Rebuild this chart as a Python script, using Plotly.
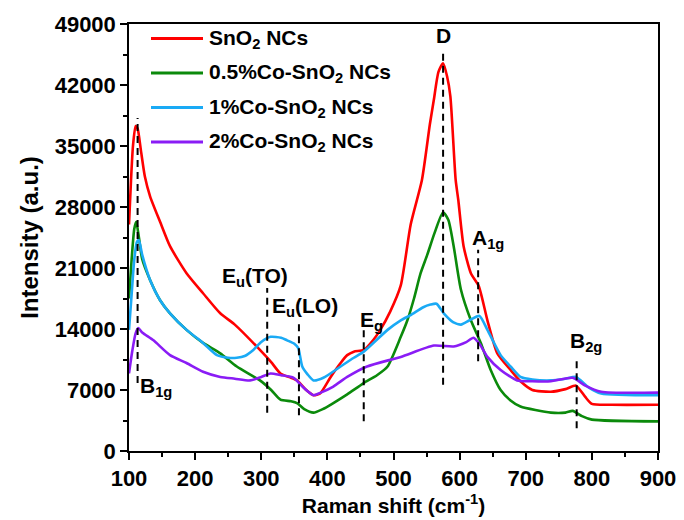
import plotly.graph_objects as go

# ---------------- data ----------------
series_names = ["SnO<sub>2</sub> NCs", "0.5%Co-SnO<sub>2</sub> NCs",
                "1%Co-SnO<sub>2</sub> NCs", "2%Co-SnO<sub>2</sub> NCs"]
series_colors = ["#ff0000", "#0b8a0b", "#1aaaf5", "#8a1cf5"]

red_x = [100, 103, 106, 110, 113, 118, 124, 132, 147, 162, 187, 212, 238, 260, 298, 315, 329,
         345, 354, 368, 379, 389, 405, 420, 430, 440, 455, 470, 480, 495, 511, 526, 543, 555,
         561, 568, 575, 581, 586, 594, 598, 606, 617, 629, 642, 657, 677, 692, 710, 738, 760,
         776, 790, 800, 830, 900]
red_y = [26000, 31000, 35000, 37300, 37000, 34500, 31500, 29200, 26300, 23500, 20400, 18100,
         15800, 14500, 11600, 10200, 8900, 8400, 8100, 7000, 6400, 6600, 8500, 10100, 11000,
         11400, 11600, 12800, 13900, 16000, 19000, 26000, 31100, 37500, 40300, 43500, 44500,
         43000, 40700, 31100, 28800, 23500, 20400, 18900, 15000, 11200, 9300, 8000, 7000, 6800,
         7100, 7500, 6200, 5400, 5300, 5300]

green_x = [100, 104, 108, 111, 115, 120, 132, 147, 162, 187, 212, 238, 263, 298, 315, 329, 345,
           354, 365, 379, 393, 409, 430, 455, 475, 491, 511, 521, 531, 541, 551, 562, 575, 583,
           591, 602, 617, 632, 647, 662, 677, 692, 738, 760, 771, 785, 800, 900]
green_y = [17500, 22000, 25500, 26300, 24500, 22000, 19600, 17300, 15800, 13900, 12400, 11200,
           9700, 8100, 7000, 5900, 5700, 5500, 4800, 4400, 4800, 5500, 6500, 7800, 8700, 9700,
           13100, 15000, 17500, 20400, 22500, 25000, 27400, 26500, 23500, 18500, 15000, 12400,
           9300, 7000, 5800, 5100, 4400, 4400, 4600, 4000, 3600, 3400]

blue_x = [100, 104, 108, 112, 115, 120, 132, 147, 162, 187, 212, 233, 250, 263, 275, 288, 300,
          314, 330, 339, 350, 356, 362, 370, 379, 394, 420, 440, 455, 491, 511, 526, 545, 556,
          565, 576, 590, 602, 615, 630, 642, 662, 677, 692, 710, 738, 760, 776, 795, 814, 900]
blue_y = [13900, 18000, 22000, 24000, 24200, 22500, 19600, 17300, 15800, 13900, 12400, 11000,
          10700, 10700, 10900, 11600, 12500, 13100, 13000, 12700, 12300, 11800, 9700, 8800, 8100,
          8400, 9700, 10700, 11400, 13900, 15000, 15600, 16500, 16800, 16900, 15800, 14800, 14500,
          15000, 15500, 13900, 11000, 9700, 8500, 8200, 8100, 8300, 8500, 7300, 6600, 6400]

purple_x = [100, 105, 110, 114, 120, 137, 162, 187, 212, 238, 260, 283, 300, 314, 330, 349, 365,
            379, 390, 409, 430, 460, 511, 561, 591, 610, 621, 630, 642, 662, 687, 710, 738, 771,
            790, 814, 900]
purple_y = [8900, 11500, 13500, 14100, 13600, 12700, 11000, 10100, 9100, 8500, 8300, 8100, 8500,
            8900, 8700, 8400, 7200, 6400, 6700, 7400, 8500, 9700, 10800, 12100, 12000, 12500,
            13000, 12300, 10800, 9300, 8100, 8000, 8000, 8400, 7500, 6800, 6700]

# Raman modes: label, position, dashed-line extent (intensity)
mode_labels = ["B<sub>1g</sub>", "E<sub>u</sub>(TO)", "E<sub>u</sub>(LO)", "E<sub>g</sub>",
               "D", "A<sub>1g</sub>", "B<sub>2g</sub>"]
mode_pos = [113, 309, 357, 455, 575, 628, 777]
mode_top = [38200, 18700, 14800, 13900, 46000, 23100, 10800]
mode_bottom = [7800, 4400, 4100, 3400, 7600, 10300, 2600]
label_x = [113, 291, 366, 466, 575, 643, 791]
label_y = [7300, 20000, 16500, 14900, 47700, 24300, 12500]
label_anchor = ["left", "center", "center", "center", "center", "center", "center"]

x_ticks = list(range(100, 901, 100))
y_ticks = list(range(0, 49001, 7000))

# ---------------- figure ----------------
FONT = "Liberation Sans, Arial, sans-serif"
fig = go.Figure()
all_series = [(red_x, red_y), (green_x, green_y), (blue_x, blue_y), (purple_x, purple_y)]
for (xs, ys), name, col in zip(all_series, series_names, series_colors):
    fig.add_trace(go.Scatter(x=xs, y=ys, mode="lines", name=name,
                             line=dict(color=col, width=2.6, shape="spline", smoothing=0.6),
                             showlegend=False))

# dashed mode markers and labels
for lab, xp, yt, yb, lx, ly, an in zip(mode_labels, mode_pos, mode_top, mode_bottom,
                                       label_x, label_y, label_anchor):
    fig.add_shape(type="line", xref="x", yref="y", x0=xp, x1=xp, y0=yb, y1=yt,
                  line=dict(color="black", width=2, dash="7px,5px"), layer="above")
    fig.add_annotation(x=lx, y=ly, xref="x", yref="y", text="<b>" + lab + "</b>",
                       showarrow=False, font=dict(family=FONT, size=21, color="black"),
                       xanchor=an, yanchor="middle")

# page offset: the html body adds an 8px margin around the figure
OFF = 8
L, R, T, B = 129 - OFF, 658 - OFF, 24 - OFF, 451 - OFF
FW, FH = 684 - OFF, 520 - OFF
W, H = R - L, B - T
leg_rows = [38.5 - OFF, 73 - OFF, 107.5 - OFF, 142 - OFF]
for name, col, ry in zip(series_names, series_colors, leg_rows):
    yp = (B - ry) / H
    fig.add_shape(type="line", xref="paper", yref="paper",
                  x0=(151 - OFF - L) / W, x1=(203 - OFF - L) / W, y0=yp, y1=yp,
                  line=dict(color=col, width=3))
    fig.add_annotation(x=(207 - OFF - L) / W, y=yp, xref="paper", yref="paper",
                       text="<b>" + name + "</b>", showarrow=False,
                       xanchor="left", yanchor="middle",
                       font=dict(family=FONT, size=21, color="black"))

axis_common = dict(showline=True, linecolor="black", linewidth=1.5, mirror=True,
                   ticks="outside", ticklen=7, tickwidth=1.5, tickcolor="black",
                   showgrid=False, zeroline=False, automargin=False,
                   tickfont=dict(family=FONT, size=22, color="black"))

fig.update_xaxes(range=[100, 900], tickvals=x_ticks,
                 ticktext=["<b>%d</b>" % v for v in x_ticks],
                 minor=dict(dtick=50, ticklen=4, tickwidth=1.5, tickcolor="black", ticks="outside"),
                 title=dict(text="<b>Raman shift (cm<sup>-1</sup>)</b>",
                            font=dict(family=FONT, size=21, color="black"), standoff=4),
                 **axis_common)
fig.update_yaxes(range=[0, 49000], tickvals=y_ticks,
                 ticktext=["<b>%d</b>" % v for v in y_ticks],
                 minor=dict(dtick=3500, ticklen=4, tickwidth=1.5, tickcolor="black", ticks="outside"),
                 title=dict(text="<b>Intensity (a.u.)</b>",
                            font=dict(family=FONT, size=24, color="black"), standoff=9),
                 **axis_common)

fig.update_layout(width=FW, height=FH, margin=dict(l=L, r=FW - R, t=T, b=FH - B),
                  plot_bgcolor="white", paper_bgcolor="white", showlegend=False,
                  font=dict(family=FONT, color="black"))

fig.write_html("out.html")
